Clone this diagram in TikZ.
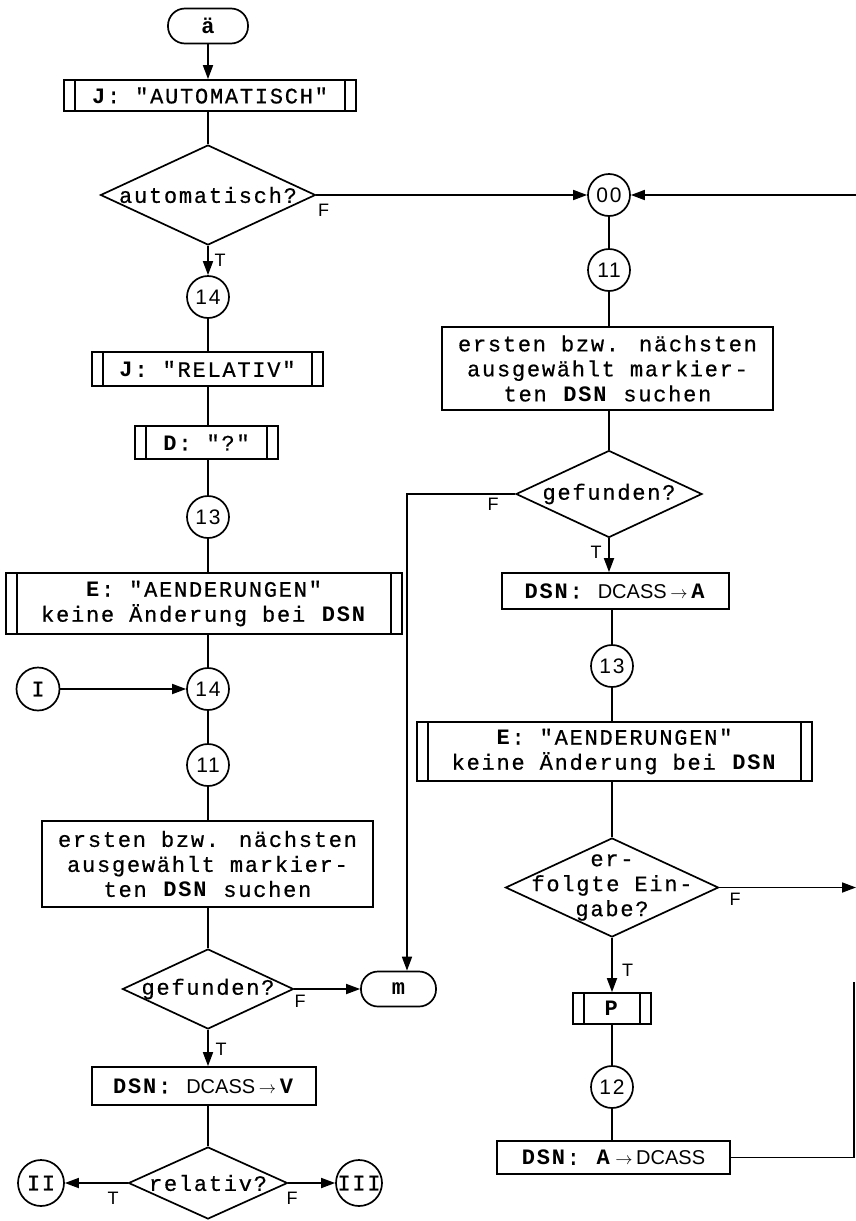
\documentclass[tikz,border=0pt]{standalone}
\usepackage{fontspec}
\usetikzlibrary{arrows.meta,shapes.geometric}

% typewriter face for box texts, sans faces for connector numbers and labels
\newfontfamily\twface[LetterSpace=8, UprightFeatures={FakeBold=0.6}]{Liberation Mono}
\newfontfamily\numface[LetterSpace=8]{Liberation Sans}
\newfontfamily\plainsans{Liberation Sans}
\newcommand\boxfont{\twface\fontsize{22}{25}\selectfont}
\newcommand\circfont{\numface\fontsize{21}{22}\selectfont}
\newcommand\dcass{{\plainsans\fontsize{20}{22}\selectfont DCASS}}
\newcommand\smallarrow{{\fontsize{16}{16}\selectfont$\rightarrow$}}

\begin{document}
\begin{tikzpicture}[x=1pt, y=-1pt, line width=1.7pt,
  every node/.style={inner sep=0pt},
  flow/.style={-{Triangle[length=14pt,width=10pt]}},
  term/.style={draw, rounded corners=17pt, minimum height=35pt, font=\boxfont\bfseries},
  proc/.style={draw, rectangle, align=center, font=\boxfont},
  sub/.style={proc, path picture={
      \draw ([xshift=11pt]path picture bounding box.north west) -- ([xshift=11pt]path picture bounding box.south west)
            ([xshift=-11pt]path picture bounding box.north east) -- ([xshift=-11pt]path picture bounding box.south east);}},
  conn/.style={draw, circle, minimum size=42pt, font=\circfont},
  roman/.style={draw, circle, minimum size=46pt, font=\boxfont},
  dec/.style={draw, diamond},
  dectext/.style={font=\boxfont, align=center},
  tf/.style={font=\plainsans\fontsize{18}{18}\selectfont}]

\useasboundingbox (0,0) rectangle (856,1221);

% ---------- left column ----------
\node[term, minimum width=80pt] (start) at (208,26) {ä};
\node[sub, minimum width=292pt, minimum height=31pt] (jauto) at (210,95.5) {\textbf{J}: "AUTOMATISCH"};
\node[dec, minimum width=215pt, minimum height=100pt] (dauto) at (208,195) {};
\node[dectext] (dautotxt) at (dauto) {automatisch?};
\node[conn] (c14a) at (208,297) {14};
\node[sub, minimum width=231pt, minimum height=34pt] (jrel) at (207.5,369) {\textbf{J}: "RELATIV"};
\node[sub, minimum width=143pt, minimum height=33pt] (dq) at (206.5,442.5) {\textbf{D}: "?"};
\node[conn] (c13a) at (208,517) {13};
\node[sub, minimum width=396pt, minimum height=61pt] (eleft) at (204,603.5)
  {\textbf{E}: "AENDERUNGEN"\\keine Änderung bei \textbf{DSN}};
\node[roman, minimum size=43pt] (rI) at (38,689) {I};
\node[conn] (c14b) at (208,689) {14};
\node[conn] (c11a) at (208,765) {11};
\node[proc, minimum width=331pt, minimum height=86pt] (sleft) at (207.5,864)
  {ersten bzw. nächsten\\ausgewählt markier-\\ten \textbf{DSN} suchen};
\node[dec, minimum width=171pt, minimum height=80pt] (dgefa) at (208,989) {};
\node[dectext] (dgefatxt) at (dgefa) {gefunden?};
\node[term, minimum width=75pt] (stop) at (398.5,989) {m};
\node[proc, minimum width=224pt, minimum height=38pt] (vbox) at (204,1086)
  {\textbf{DSN}: \dcass\,\smallarrow\,\textbf{V}};
\node[dec, minimum width=159pt, minimum height=72pt] (drel) at (208,1183) {};
\node[dectext] (dreltxt) at (drel) {relativ?};
\node[roman] (rII) at (41,1183) {II};
\node[roman] (rIII) at (359,1183) {III};

% ---------- right column ----------
\node[conn] (c00) at (609,195) {00};
\node[conn] (c11b) at (609,270) {11};
\node[proc, minimum width=331pt, minimum height=83pt] (sright) at (607.5,368.5)
  {ersten bzw. nächsten\\ausgewählt markier-\\ten \textbf{DSN} suchen};
\node[dec, minimum width=186pt, minimum height=87pt] (dgefb) at (609,494) {};
\node[dectext] (dgefbtxt) at (dgefb) {gefunden?};
\node[proc, minimum width=227pt, minimum height=36pt] (abox) at (615.5,591)
  {\textbf{DSN}: \dcass\,\smallarrow\,\textbf{A}};
\node[conn] (c13b) at (612,666) {13};
\node[sub, minimum width=395pt, minimum height=59pt] (eright) at (614.5,751.5)
  {\textbf{E}: "AENDERUNGEN"\\keine Änderung bei \textbf{DSN}};
\node[dec, minimum width=213pt, minimum height=99pt] (dein) at (612,887.5) {};
\node[dectext] (deintxt) at (dein) {er-\\folgte Ein-\\gabe?};
\node[sub, minimum width=78pt, minimum height=31pt] (pbox) at (612,1008.5) {\textbf{P}};
\node[conn] (c12) at (612,1087) {12};
\node[proc, minimum width=233pt, minimum height=33pt] (dcbox) at (613.5,1157.5)
  {\textbf{DSN}: \textbf{A}\,\smallarrow\,\dcass};

% loose ends at the right margin
\coordinate (rtop) at (857,195);
\coordinate (rout) at (856,887.5);
\coordinate (rbot) at (854,1157.5);
\coordinate (rmid) at (854,982);

% ---------- connectors, left column ----------
\draw[flow] (start.south) -- (start.south |- jauto.north);
\draw (jauto.south -| dauto.north) -- (dauto.north);
\draw[flow] (dauto.south) -- (dauto.south |- c14a.north);
\draw[flow] (dauto.east) -- (c00.west);
\draw (c14a.south) -- (c14a.south |- jrel.north);
\draw (c14a.south |- jrel.south) -- (c14a.south |- dq.north);
\draw (c14a.south |- dq.south) -- (c13a.north);
\draw (c13a.south) -- (c13a.south |- eleft.north);
\draw (c13a.south |- eleft.south) -- (c14b.north);
\draw[flow] (rI.east) -- (c14b.west);
\draw (c14b.south) -- (c11a.north);
\draw (c11a.south) -- (c11a.south |- sleft.north);
\draw (c11a.south |- sleft.south) -- (dgefa.north);
\draw[flow] (dgefa.east) -- (stop.west);
\draw[flow] (dgefa.south) -- (dgefa.south |- vbox.north);
\draw (dgefa.south |- vbox.south) -- (drel.north);
\draw[flow] (drel.west) -- (rII.east);
\draw[flow] (drel.east) -- (rIII.west);

% ---------- connectors, right column ----------
\draw[flow] (rtop) -- (c00.east);
\draw (c00.south) -- (c11b.north);
\draw (c11b.south) -- (c11b.south |- sright.north);
\draw (c11b.south |- sright.south) -- (dgefb.north);
\draw[flow] (dgefb.west) -| ([xshift=8.5pt]stop.north);
\draw[flow] (dgefb.south) -- (dgefb.south |- abox.north);
\draw (c13b.north |- abox.south) -- (c13b.north);
\draw (c13b.south) -- (c13b.south |- eright.north);
\draw (c13b.south |- eright.south) -- (dein.north);
\draw[flow] (dein.east) -- (rout);
\draw[flow] (dein.south) -- (dein.south |- pbox.north);
\draw (dein.south |- pbox.south) -- (c12.north);
\draw (c12.south) -- (c12.south |- dcbox.north);
\draw (dcbox.east) -- (rbot) -- (rmid);

% ---------- branch labels ----------
\node[tf] (fauto) at (323.5,210.5) {F};
\node[tf] (tauto) at (220,260.5) {T};
\node[tf] (fgefa) at (300,1001.5) {F};
\node[tf] (tgefa) at (221,1049) {T};
\node[tf] (trel) at (113,1198) {T};
\node[tf] (frel) at (292,1198) {F};
\node[tf] (fgefb) at (493,504) {F};
\node[tf] (tgefb) at (596,552) {T};
\node[tf] (fein) at (735,899.5) {F};
\node[tf] (tein) at (627.5,970) {T};
\end{tikzpicture}
\end{document}
